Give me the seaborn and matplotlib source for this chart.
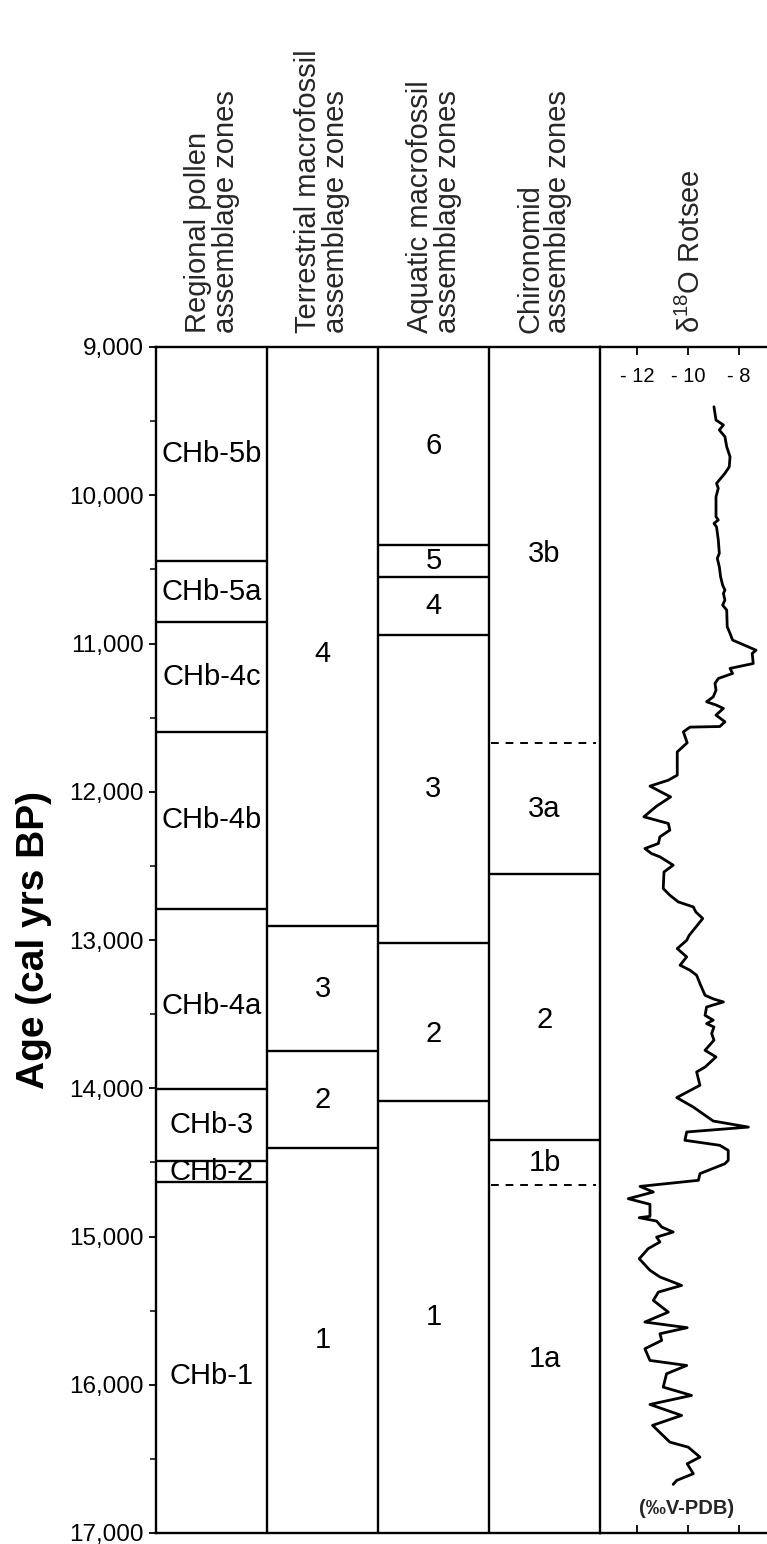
import matplotlib
matplotlib.use("Agg")
import matplotlib.pyplot as plt
import seaborn as sns
from matplotlib.ticker import MultipleLocator, FuncFormatter

sns.set_theme(style="white")
plt.rcParams['font.family'] = ['Liberation Sans', 'DejaVu Sans']
plt.rcParams['mathtext.fontset'] = 'custom'
plt.rcParams['mathtext.rm'] = 'Liberation Sans'

# Zone boundaries in cal yrs BP (first and last are the diagram limits)
pollen_bounds = [9000, 10443, 10856, 11598, 12789, 14005, 14492, 14632, 17000]
pollen_labels = ["CHb-5b", "CHb-5a", "CHb-4c", "CHb-4b", "CHb-4a", "CHb-3", "CHb-2", "CHb-1"]

terr_bounds = [9000, 12905, 13752, 14400, 17000]
terr_labels = ["4", "3", "2", "1"]

aqua_bounds = [9000, 10335, 10552, 10946, 13021, 14083, 17000]
aqua_labels = ["6", "5", "4", "3", "2", "1"]

chiro_bounds = [9000, 11673, 12557, 14347, 14655, 17000]
chiro_labels = ["3b", "3a", "2", "1b", "1a"]
chiro_subzone = [11673, 14655]  # drawn dashed

headers = [
    "Regional pollen\nassemblage zones",
    "Terrestrial macrofossil\nassemblage zones",
    "Aquatic macrofossil\nassemblage zones",
    "Chironomid\nassemblage zones",
]

# Rotsee oxygen isotope record
d18o_age = [9403, 9493, 9526, 9560, 9605, 9673, 9740, 9808, 9852, 9920, 9953, 10010,
            10145, 10167, 10190, 10213, 10302, 10392, 10426, 10482, 10550, 10606, 10640,
            10662, 10707, 10741, 10775, 10887, 10932, 10977, 11045, 11067, 11135, 11168,
            11202, 11236, 11269, 11315, 11360, 11393, 11416, 11438, 11483, 11528, 11560,
            11564, 11596, 11670, 11731, 11888, 11922, 11962, 12035, 12097, 12169, 12214,
            12259, 12304, 12349, 12383, 12417, 12439, 12495, 12541, 12653, 12698, 12743,
            12777, 12811, 12855, 12968, 13002, 13058, 13114, 13170, 13204, 13238, 13294,
            13373, 13397, 13418, 13452, 13508, 13541, 13564, 13587, 13631, 13676, 13744,
            13789, 13857, 13890, 13980, 14063, 14127, 14221, 14262, 14295, 14351, 14385,
            14419, 14486, 14509, 14576, 14621, 14662, 14700, 14745, 14783, 14864, 14873,
            14896, 14936, 14970, 15004, 15037, 15082, 15150, 15228, 15273, 15330, 15375,
            15431, 15510, 15577, 15615, 15656, 15701, 15757, 15836, 15870, 15926, 16016,
            16072, 16133, 16207, 16274, 16387, 16421, 16488, 16533, 16600, 16645, 16672]
d18o_val = [-8.98, -8.90, -8.61, -8.77, -8.55, -8.48, -8.35, -8.38, -8.55, -8.88, -8.81, -8.90,
            -8.90, -8.81, -8.98, -8.88, -8.81, -8.77, -8.85, -8.77, -8.72, -8.64, -8.55,
            -8.61, -8.55, -8.64, -8.48, -8.46, -8.35, -8.25, -7.33, -7.48, -7.44, -8.35,
            -8.25, -8.81, -8.94, -8.90, -9.01, -9.27, -8.88, -8.61, -8.90, -8.55, -8.75,
            -9.92, -10.18, -10.03, -10.42, -10.42, -10.77, -11.49, -10.68, -11.23, -11.73, -10.77,
            -10.71, -11.10, -11.16, -11.69, -11.43, -11.10, -10.58, -10.94, -10.97, -10.71, -10.38,
            -9.79, -9.69, -9.42, -9.95, -10.05, -10.42, -10.05, -10.31, -9.92, -9.66, -9.53,
            -9.33, -9.01, -8.61, -9.27, -9.33, -9.01, -9.27, -8.98, -9.07, -8.98, -9.33,
            -8.90, -9.33, -9.66, -9.53, -10.44, -9.79, -9.01, -7.63, -10.05, -10.12, -8.75,
            -8.42, -8.42, -8.55, -9.53, -9.59, -11.88, -11.36, -12.34, -11.49, -11.49, -11.91,
            -11.23, -11.03, -10.58, -11.23, -11.10, -11.56, -11.91, -11.49, -11.10, -10.25, -11.16,
            -11.36, -10.77, -11.69, -10.03, -11.10, -11.03, -11.69, -11.49, -10.05, -10.84, -10.97,
            -9.86, -11.49, -10.25, -11.39, -10.71, -9.99, -9.53, -10.03, -9.79, -10.44, -10.58]

d18o_ticks = [-12, -10, -8]
d18o_ticklabels = ["- 12", "- 10", "- 8"]

W, H = 767, 1544
fig = plt.figure(figsize=(W / 100, H / 100), dpi=100)
fig.patch.set_facecolor("white")

x0, xc, x1 = 156, 600, 767
ytop, ybot = 347, 1533
ax2 = fig.add_axes([xc / W, 1 - ybot / H, (x1 - xc) / W, (ybot - ytop) / H])
ax = fig.add_axes([x0 / W, 1 - ybot / H, (xc - x0) / W, (ybot - ytop) / H], sharey=ax2)
ax.set_facecolor("none")
ax2.set_facecolor("none")

LW = 1.7
ZFS = 21
HFS = 21

# labels in tall zones sit a little below the zone middle (years)
label_shift = {(0, "CHb-1"): 125, (0, "CHb-4a"): 50, (1, "4"): 120,
               (2, "2"): 80, (3, "2"): 85, (3, "3b"): 60}

ax.set_xlim(0, 4)
ax.set_ylim(17000, 9000)

columns = [(pollen_bounds, pollen_labels), (terr_bounds, terr_labels),
           (aqua_bounds, aqua_labels), (chiro_bounds, chiro_labels)]
for i, (bounds, labels) in enumerate(columns):
    for b in bounds[1:-1]:
        if i == 3 and b in chiro_subzone:
            ax.hlines(b, i + 0.02, i + 0.96, colors="black", lw=1.4, linestyles=(0, (4, 3.5)))
        else:
            ax.hlines(b, i, i + 1, colors="black", lw=LW)
    for lab, b0, b1 in zip(labels, bounds[:-1], bounds[1:]):
        ymid = (b0 + b1) / 2 + label_shift.get((i, lab), 0)
        ax.text(i + 0.5, ymid, lab, ha="center", va="center", fontsize=ZFS, color="black")
    ax.text(i + 0.5, 1.012, headers[i], transform=ax.get_xaxis_transform(), rotation=90,
            ha="center", va="bottom", fontsize=HFS, linespacing=1.0, multialignment="left")
ax.vlines([1, 2, 3], 9000, 17000, colors="black", lw=LW)

for side in ["left", "top", "bottom", "right"]:
    ax.spines[side].set_visible(True)
    ax.spines[side].set_color("black")
    ax.spines[side].set_linewidth(LW)

ax.set_xticks([])
ax.yaxis.set_major_locator(MultipleLocator(1000))
ax.yaxis.set_minor_locator(MultipleLocator(500))
ax.yaxis.set_major_formatter(FuncFormatter(lambda v, p: f"{int(v):,}"))
ax.tick_params(axis="y", which="major", left=True, direction="out", length=5, width=1.3,
               labelsize=17.5, pad=4, colors="black")
ax.tick_params(axis="y", which="minor", left=True, direction="out", length=4, width=1.3)
ax.set_ylabel("Age (cal yrs BP)", fontsize=28, fontweight="bold", color="black")
ax.yaxis.set_label_coords(-0.235, 0.5)

# Oxygen isotope curve
sns.lineplot(x=d18o_val, y=d18o_age, ax=ax2, sort=False, estimator=None, orient="y",
             color="black", lw=2.0)
ax2.set_xlim(-13.45, -6.90)
ax2.set_ylim(17000, 9000)
ax2.set_xticks(d18o_ticks)
ax2.set_xticklabels(d18o_ticklabels)
ax2.tick_params(axis="x", which="major", top=True, bottom=True, labeltop=True, labelbottom=False,
                direction="in", length=6, width=1.3, labelsize=14.5, pad=-28, colors="black")
ax2.tick_params(axis="y", left=False, labelleft=False)
ax2.set_xlabel("")
ax2.set_ylabel("")
for side in ["left", "right"]:
    ax2.spines[side].set_visible(False)
for side in ["top", "bottom"]:
    ax2.spines[side].set_visible(True)
    ax2.spines[side].set_color("black")
    ax2.spines[side].set_linewidth(LW)

ax2.text(0.55, 1.012, "δ$^{18}$O Rotsee", transform=ax2.transAxes, rotation=90,
         ha="center", va="bottom", fontsize=HFS)
ax2.text(0.52, 0.021, "(‰V-PDB)", transform=ax2.transAxes, ha="center", va="center",
         fontsize=14.5, fontweight="bold")

fig.savefig("out.png", dpi=100, facecolor="white")
